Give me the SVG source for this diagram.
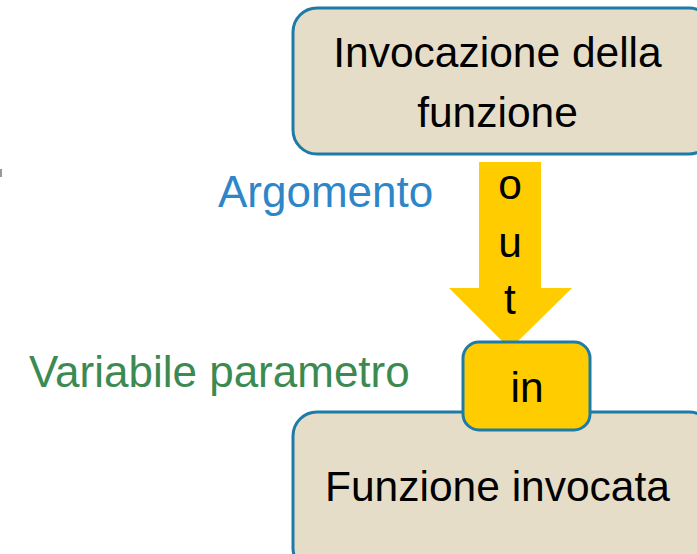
<svg xmlns="http://www.w3.org/2000/svg" width="697" height="554" viewBox="0 0 697 554">
<style>
.box{fill:#E6DDC8;stroke:#1E7BA6;stroke-width:3}
.inbox{fill:#FFCC00;stroke:#1E7BA6;stroke-width:3}
.t{font-family:"Liberation Sans",Arial,sans-serif;font-size:42.5px;fill:#000}
.c{text-anchor:middle}
.lbl{font-size:44px}
</style>
<rect width="697" height="554" fill="#fff"/>
<rect x="0" y="169" width="2" height="8" fill="#999"/>
<g id="caller">
<rect class="box" x="293" y="8" width="420" height="146" rx="24"/>
<text class="t c" x="497.5" y="67">Invocazione della</text>
<text class="t c" x="497.5" y="127">funzione</text>
</g>
<g id="connectors">
<polygon points="479,162 541,162 541,288 572,288 510,349 449,288 479,288" fill="#FFCC00"/>
<text class="t c" x="510" y="199">o</text>
<text class="t c" x="510" y="257">u</text>
<text class="t c" x="510" y="314">t</text>
</g>
<g id="callee">
<rect class="box" x="293" y="412" width="420" height="160" rx="24"/>
<text class="t c" x="497.5" y="501">Funzione invocata</text>
</g>
<g id="param">
<rect class="inbox" x="463" y="342" width="127" height="88" rx="16"/>
<text class="t c" x="527" y="402">in</text>
</g>
<g id="labels">
<text class="t lbl" x="218" y="207" style="fill:#2E86C8">Argomento</text>
<text class="t lbl" x="29" y="387" style="fill:#3C8A52">Variabile parametro</text>
</g>
</svg>
